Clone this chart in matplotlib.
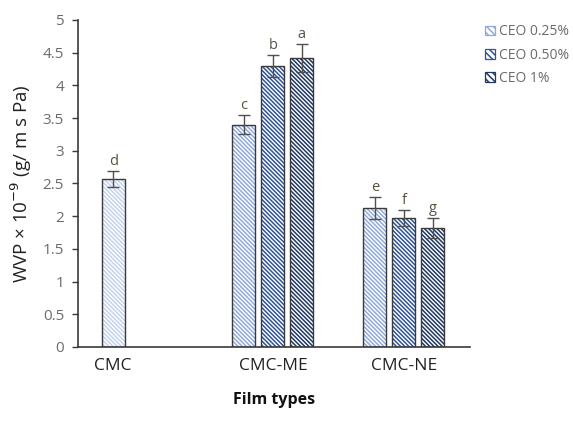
import matplotlib.pyplot as plt
import matplotlib as mpl

# Data
film_types = ["CMC", "CMC-ME", "CMC-NE"]
series = ["CEO 0.25%", "CEO 0.50%", "CEO 1%"]

cmc_value = 2.57
cmc_err = 0.12
cmc_letter = "d"

me_values = [3.40, 4.30, 4.42]
me_errs = [0.15, 0.17, 0.22]
me_letters = ["c", "b", "a"]

ne_values = [2.13, 1.97, 1.82]
ne_errs = [0.17, 0.12, 0.15]
ne_letters = ["e", "f", "g"]

# layout
group_pos = [0.0, 1.22, 2.22]
bar_w = 0.176
pitch = 0.221
colors = ["#8faadc", "#2f5597", "#1f3864"]
cmc_color = "#c5d3ee"
edge = "#3a3a3a"
text_gray = "#6b6b6b"
HATCH = "\\" * 8

mpl.rcParams["font.family"] = ["Open Sans", "DejaVu Sans"]
mpl.rcParams["hatch.linewidth"] = 1.1

fig = plt.figure(figsize=(5.73, 4.21), dpi=100)
ax = fig.add_axes([0.136, 0.176, 0.684, 0.7765])


def draw_bar(x, h, err, color, letter):
    ax.bar(x, h, width=bar_w, color="white", edgecolor=color, hatch=HATCH,
           linewidth=0, zorder=2)
    ax.bar(x, h, width=bar_w, fill=False, edgecolor=edge, linewidth=1.0, zorder=3)
    ax.errorbar(x, h, yerr=err, fmt="none", ecolor="#505050", elinewidth=1.0,
                capsize=4, capthick=1.0, zorder=4)
    ax.text(x, h + err + 0.03, letter, ha="center", va="bottom", fontsize=10.5,
            color="#5a5040")


draw_bar(group_pos[0], cmc_value, cmc_err, cmc_color, cmc_letter)
for i in range(3):
    draw_bar(group_pos[1] + (i - 1) * pitch, me_values[i], me_errs[i], colors[i], me_letters[i])
    draw_bar(group_pos[2] + (i - 1) * pitch, ne_values[i], ne_errs[i], colors[i], ne_letters[i])

ax.set_xlim(-0.269, 2.724)
ax.set_ylim(0, 5)
ax.set_yticks([i * 0.5 for i in range(11)])
ax.set_yticklabels(["0", "0.5", "1", "1.5", "2", "2.5", "3", "3.5", "4", "4.5", "5"],
                   color=text_gray, fontsize=11)
ax.set_xticks(group_pos)
ax.set_xticklabels(film_types, fontsize=12.5, color="#222222")
ax.tick_params(axis="x", length=0, pad=8)
ax.tick_params(axis="y", length=4, color=edge, width=1.0, pad=6)
for s in ["top", "right"]:
    ax.spines[s].set_visible(False)
for s in ["left", "bottom"]:
    ax.spines[s].set_color(edge)
    ax.spines[s].set_linewidth(1.2)

ax.set_ylabel("WVP × 10$^{-9}$ (g/ m s Pa)", fontsize=13.5, color="#222222", labelpad=6)
ax.set_xlabel("Film types", fontsize=11.5, fontweight="bold", color="#111111", labelpad=13)

handles = [mpl.patches.Patch(facecolor="white", edgecolor=c, hatch="\\" * 5, linewidth=0.9)
           for c in colors]
leg = fig.legend(handles, series, loc="upper left", bbox_to_anchor=(0.83, 0.965),
                 frameon=False, fontsize=10, handlelength=0.7, handleheight=0.7,
                 handletextpad=0.25, labelspacing=0.6, borderpad=0.2)
for t in leg.get_texts():
    t.set_color(text_gray)

fig.savefig("out.png", dpi=100)
